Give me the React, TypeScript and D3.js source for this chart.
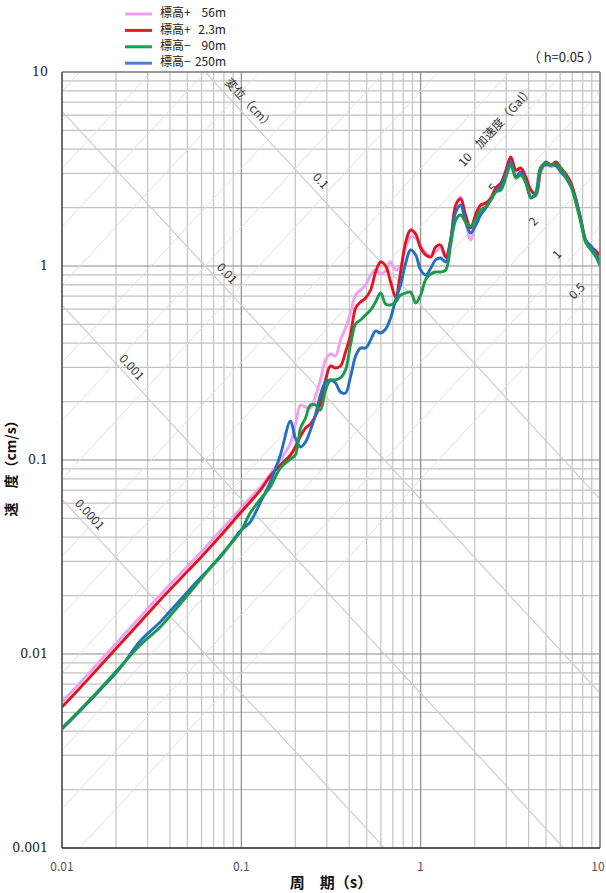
import React from 'react';
import * as d3 from 'd3';

// Period grid (s)
const periods = [0.01, 0.0126, 0.0163, 0.0211, 0.0273, 0.0353, 0.0456, 0.059, 0.0763, 0.0987, 0.112, 0.128, 0.145, 0.165, 0.188, 0.2, 0.214, 0.228, 0.243, 0.259, 0.276, 0.295, 0.314, 0.335, 0.357, 0.381, 0.406, 0.434, 0.462, 0.493, 0.526, 0.561, 0.598, 0.638, 0.68, 0.725, 0.773, 0.825, 0.879, 0.938, 1.0, 1.07, 1.14, 1.21, 1.29, 1.38, 1.47, 1.57, 1.67, 1.78, 1.9, 2.03, 2.16, 2.31, 2.46, 2.62, 2.8, 2.99, 3.18, 3.4, 3.62, 3.86, 4.12, 4.39, 4.68, 4.99, 5.33, 5.68, 6.05, 6.46, 6.89, 7.34, 7.83, 8.35, 8.91, 9.5, 10];

// Velocity response (cm/s)
const velPlus56 = [0.00566, 0.00709, 0.0092, 0.01195, 0.01551, 0.02014, 0.02585, 0.03317, 0.04305, 0.0559, 0.0637, 0.0726, 0.0847, 0.1, 0.1224, 0.1515, 0.1921, 0.1876, 0.1854, 0.2138, 0.2585, 0.3278, 0.3519, 0.3437, 0.4155, 0.479, 0.5727, 0.7087, 0.752, 0.7981, 0.8989, 0.9537, 0.9094, 0.9424, 1.049, 0.9537, 1.0, 1.253, 1.411, 1.394, 1.268, 1.167, 1.126, 1.181, 1.238, 1.1, 1.361, 2.063, 2.268, 1.726, 1.361, 1.686, 2.014, 2.063, 2.189, 2.465, 2.616, 3.051, 3.519, 3.051, 3.124, 2.808, 2.407, 2.295, 3.051, 3.356, 3.238, 3.356, 3.124, 2.91, 2.616, 2.163, 1.686, 1.329, 1.224, 1.153, 1.1];
const velPlus23 = [0.00533, 0.00668, 0.00867, 0.01126, 0.01462, 0.01899, 0.02435, 0.03126, 0.04058, 0.0533, 0.0607, 0.0701, 0.0827, 0.0942, 0.1061, 0.1167, 0.1329, 0.1462, 0.1533, 0.1686, 0.1967, 0.2585, 0.3051, 0.298, 0.3051, 0.3603, 0.4409, 0.6074, 0.6524, 0.6841, 0.752, 0.9313, 1.049, 1.0, 0.827, 0.692, 0.931, 1.329, 1.533, 1.462, 1.238, 1.139, 1.113, 1.253, 1.283, 1.113, 1.361, 2.063, 2.215, 1.832, 1.57, 1.854, 2.063, 2.112, 2.241, 2.524, 2.678, 3.124, 3.647, 3.124, 3.2, 2.875, 2.465, 2.35, 3.124, 3.437, 3.316, 3.437, 3.2, 2.981, 2.678, 2.215, 1.726, 1.346, 1.253, 1.195, 1.139];
const velMinus90 = [0.004155, 0.005144, 0.006601, 0.00857, 0.01113, 0.01378, 0.0181, 0.02407, 0.032, 0.04255, 0.0533, 0.063, 0.0726, 0.0909, 0.1012, 0.1061, 0.1462, 0.1646, 0.1921, 0.1921, 0.181, 0.2296, 0.2585, 0.2585, 0.2647, 0.291, 0.3915, 0.5024, 0.5268, 0.5589, 0.5931, 0.6524, 0.7258, 0.6369, 0.6295, 0.6524, 0.7087, 0.7258, 0.7345, 0.6445, 0.7087, 0.857, 0.9094, 0.9313, 0.9313, 0.9537, 1.283, 1.726, 1.832, 1.686, 1.608, 1.747, 1.944, 2.014, 2.189, 2.407, 2.465, 2.875, 3.316, 2.842, 2.945, 2.678, 2.268, 2.323, 3.2, 3.396, 3.316, 3.356, 3.162, 2.91, 2.585, 2.112, 1.665, 1.314, 1.209, 1.113, 1.0];
const velMinus250 = [0.004106, 0.005084, 0.006522, 0.008469, 0.01167, 0.01462, 0.01899, 0.02465, 0.03162, 0.04305, 0.0479, 0.0607, 0.077, 0.1061, 0.1589, 0.1298, 0.1167, 0.1238, 0.1427, 0.1706, 0.2163, 0.2524, 0.2585, 0.2494, 0.2241, 0.2215, 0.2678, 0.3437, 0.3779, 0.3779, 0.4155, 0.4624, 0.4515, 0.4734, 0.5395, 0.6683, 0.7981, 1.036, 1.209, 1.139, 0.9537, 0.8989, 0.9765, 1.074, 1.1, 1.049, 1.361, 1.898, 2.063, 1.686, 1.479, 1.627, 1.832, 1.991, 2.189, 2.407, 2.585, 2.981, 3.437, 2.875, 3.051, 2.71, 2.241, 2.407, 3.238, 3.316, 3.316, 3.277, 3.051, 2.842, 2.554, 2.189, 1.726, 1.346, 1.268, 1.153, 1.049];

const legendPrefixes = ['標高+', '標高+', '標高−', '標高−'];
const legendValues = ['56m', '2.3m', '90m', '250m'];
const seriesColors = ['#f2a0ee', '#e3141e', '#1a9a4a', '#2270c2'];
const legendColors = ['#f29ef2', '#ee1c25', '#18a34a', '#4a7fe6'];

const xTickValues = [0.01, 0.1, 1, 10];
const xTickLabels = ['0.01', '0.1', '1', '10'];
const yTickValues = [0.001, 0.01, 0.1, 1, 10];
const yTickLabels = ['0.001', '0.01', '0.1', '1', '10'];

const displacementLines = [0.0001, 0.001, 0.01, 0.1];
const displacementLabels = ['0.0001', '0.001', '0.01', '0.1'];
const accelerationLines = [0.5, 1, 2, 5, 10, 20, 50, 100, 200, 500, 1000, 2000, 5000];
const accelerationLabelValues = [10, 5, 2, 1, 0.5];
const accelerationLabels = ['10', '5', '2', '1', '0.5'];

const W = 606;
const H = 893;
const L = 62, R = 600, T = 72, B = 848;

export default function App() {
  const x = d3.scaleLog().domain([0.01, 10]).range([L, R]);
  const y = d3.scaleLog().domain([0.001, 10]).range([B, T]);
  const decadeX = (R - L) / 3;
  const decadeY = (B - T) / 4;
  const angDeg = (Math.atan(decadeY / decadeX) * 180) / Math.PI;
  const TWO_PI = 2 * Math.PI;

  const decadesX = [0.01, 0.1, 1];
  const decadesY = [0.001, 0.01, 0.1, 1];
  const minorX: number[] = [];
  decadesX.forEach((d) => { for (let k = 2; k <= 9; k++) minorX.push(d * k); });
  const minorY: number[] = [];
  decadesY.forEach((d) => { for (let k = 2; k <= 9; k++) minorY.push(d * k); });

  const series = [velPlus56, velPlus23, velMinus250, velMinus90];
  const seriesColorOrder = [seriesColors[0], seriesColors[1], seriesColors[3], seriesColors[2]];
  const line = d3
    .line<[number, number]>()
    .x((d) => x(d[0]))
    .y((d) => y(d[1]))
    .curve(d3.curveCatmullRom.alpha(0.5));

  const dispLabelPos = [
    { t: 0.013, off: 9 },
    { t: 0.0225, off: 8 },
    { t: 0.075, off: 10 },
    { t: 0.25, off: 10 },
  ];
  const accLabelPos = [2.0, 2.86, 4.8, 6.5, 8.4];

  const font = '"Noto Sans CJK JP", "Noto Sans", sans-serif';

  const labelAt = (px: number, py: number, rot: number, off: number, text: string, key: string) => (
    <g key={key} transform={`translate(${px},${py}) rotate(${rot})`}>
      <text
        x={0}
        y={-off}
        textAnchor="middle"
        dominantBaseline="middle"
        fontSize={12}
        fill="#333"
        fontFamily={font}
      >
        {text}
      </text>
    </g>
  );

  return (
    <svg
      width={W}
      height={H}
      style={{ position: 'absolute', left: 0, top: 0, background: '#fff' }}
      xmlns="http://www.w3.org/2000/svg"
    >
      <defs>
        <clipPath id="plotClip">
          <rect x={L} y={T} width={R - L} height={B - T} />
        </clipPath>
      </defs>
      <rect x={0} y={0} width={W} height={H} fill="#fff" />

      {/* grid */}
      <g>
        {minorX.map((v, i) => (
          <line key={'mx' + i} x1={x(v)} x2={x(v)} y1={T} y2={B} stroke="#c2c2c2" strokeWidth={1.2} />
        ))}
        {minorY.map((v, i) => (
          <line key={'my' + i} x1={L} x2={R} y1={y(v)} y2={y(v)} stroke="#c2c2c2" strokeWidth={1.2} />
        ))}
        {xTickValues.map((v, i) => (
          <line key={'Mx' + i} x1={x(v)} x2={x(v)} y1={T} y2={B} stroke="#8c8c8c" strokeWidth={1.2} />
        ))}
        {yTickValues.map((v, i) => (
          <line key={'My' + i} x1={L} x2={R} y1={y(v)} y2={y(v)} stroke="#8c8c8c" strokeWidth={1.2} />
        ))}
      </g>

      {/* tripartite diagonals */}
      <g clipPath="url(#plotClip)">
        {accelerationLines.map((a, i) => (
          <line
            key={'a' + i}
            x1={x(0.001)}
            y1={y((a * 0.001) / TWO_PI)}
            x2={x(100)}
            y2={y((a * 100) / TWO_PI)}
            stroke="#e0e0e0"
            strokeWidth={1}
          />
        ))}
        {displacementLines.map((dv, i) => (
          <line
            key={'d' + i}
            x1={x(0.001)}
            y1={y((TWO_PI * dv) / 0.001)}
            x2={x(100)}
            y2={y((TWO_PI * dv) / 100)}
            stroke="#cdcdcd"
            strokeWidth={1.2}
          />
        ))}
      </g>

      {/* diagonal labels */}
      <g>
        {displacementLines.map((dv, i) =>
          labelAt(
            x(dispLabelPos[i].t),
            y((TWO_PI * dv) / dispLabelPos[i].t),
            angDeg,
            dispLabelPos[i].off,
            displacementLabels[i],
            'dl' + i
          )
        )}
        {labelAt(x(0.1), y((TWO_PI * 0.1) / 0.1), angDeg, 10, '変位（cm）', 'dtitle')}
        {accelerationLabelValues.map((a, i) =>
          labelAt(
            x(accLabelPos[i]),
            y((a * accLabelPos[i]) / TWO_PI),
            -angDeg,
            12,
            accelerationLabels[i],
            'al' + i
          )
        )}
        {labelAt(x(3.3), y((10 * 3.3) / TWO_PI), -angDeg, 12, '加速度（Gal）', 'atitle')}
      </g>

      {/* series */}
      <g clipPath="url(#plotClip)">
        {series.map((vals, si) => (
          <path
            key={'s' + si}
            d={line(periods.map((p, i) => [p, vals[i]] as [number, number])) || ''}
            fill="none"
            stroke={seriesColorOrder[si]}
            strokeWidth={2.9}
            strokeLinejoin="round"
          />
        ))}
      </g>

      {/* border */}
      <line x1={L} x2={R} y1={T} y2={T} stroke="#8a8a8a" strokeWidth={1.5} />
      <line x1={R} x2={R} y1={T} y2={B} stroke="#8a8a8a" strokeWidth={1.5} />
      <line x1={L} x2={L} y1={T} y2={B} stroke="#5a5a5a" strokeWidth={1.6} />
      <line x1={L} x2={R} y1={B} y2={B} stroke="#333" strokeWidth={1.6} />

      {/* y ticks */}
      {yTickValues.map((v, i) => (
        <text
          key={'yt' + i}
          x={48}
          y={y(v)}
          textAnchor="end"
          dominantBaseline="middle"
          fontSize={12.5}
          fontFamily='"DejaVu Serif", serif'
          fill="#222"
        >
          {yTickLabels[i]}
        </text>
      ))}
      {/* x ticks */}
      {xTickValues.map((v, i) => (
        <text
          key={'xt' + i}
          x={i === xTickValues.length - 1 ? x(v) - 2 : x(v)}
          y={868}
          textAnchor="middle"
          dominantBaseline="middle"
          fontSize={12}
          fontFamily={font}
          fill="#555"
        >
          {xTickLabels[i]}
        </text>
      ))}

      {/* axis titles */}
      <text
        x={331}
        y={884}
        textAnchor="middle"
        dominantBaseline="middle"
        fontSize={15}
        fontWeight="bold"
        fontFamily={font}
        fill="#111"
      >
        周　期（s）
      </text>
      <text
        transform={`translate(12,465) rotate(-90)`}
        textAnchor="middle"
        dominantBaseline="middle"
        fontSize={14}
        fontWeight="bold"
        fontFamily={font}
        fill="#111"
      >
        速　度（cm/s）
      </text>

      {/* h label */}
      <text
        x={600}
        y={58}
        textAnchor="end"
        dominantBaseline="middle"
        fontSize={13}
        fontFamily={font}
        fill="#222"
      >
        （ h=0.05 ）
      </text>

      {/* legend */}
      {legendPrefixes.map((p, i) => {
        const ly = 14 + i * 16.4;
        return (
          <g key={'lg' + i}>
            <line x1={125} x2={152} y1={ly} y2={ly} stroke={legendColors[i]} strokeWidth={3} />
            <text x={160} y={ly} dominantBaseline="middle" fontSize={12} fontFamily={font} fill="#222">
              {p}
            </text>
            <text x={226} y={ly} textAnchor="end" dominantBaseline="middle" fontSize={12} fontFamily={font} fill="#222">
              {legendValues[i]}
            </text>
          </g>
        );
      })}
    </svg>
  );
}
